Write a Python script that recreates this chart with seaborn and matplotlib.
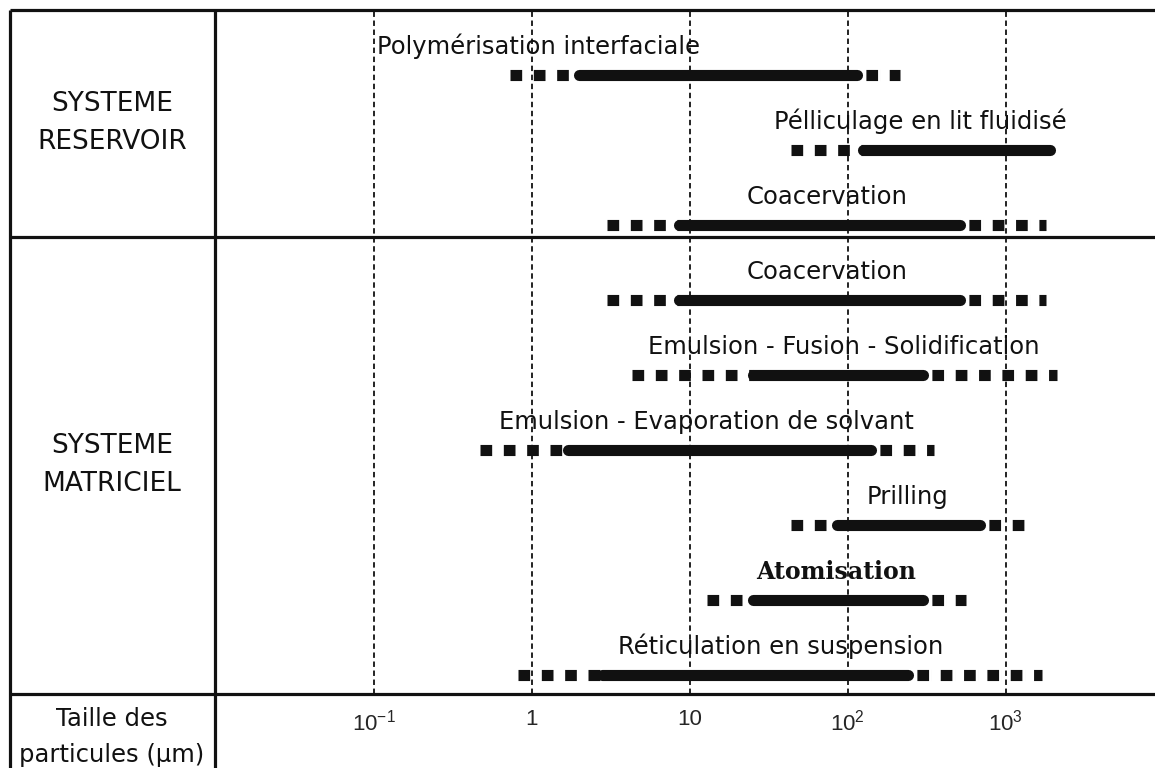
import pandas as pd
import matplotlib.pyplot as plt
import seaborn as sns
from matplotlib.ticker import NullLocator

# Encapsulation methods and particle size ranges (µm)
methods = [
    "Polymérisation interfaciale",
    "Pélliculage en lit fluidisé",
    "Coacervation",
    "Coacervation",
    "Emulsion - Fusion - Solidification",
    "Emulsion - Evaporation de solvant",
    "Prilling",
    "Atomisation",
    "Réticulation en suspension",
]
dot_min = [0.73, 44, 3.0, 3.0, 4.3, 0.47, 44, 12.8, 0.82]
solid_min = [2.0, 125, 8.6, 8.6, 25, 1.7, 86, 25, 2.8]
solid_max = [115, 1900, 510, 510, 300, 140, 690, 300, 240]
dot_max = [215, 1900, 1800, 1800, 2100, 350, 1300, 560, 1700]

tick_values = [0.1, 1, 10, 100, 1000]
tick_labels = [r"$\mathregular{10^{-1}}$", "1", "10",
               r"$\mathregular{10^{2}}$", r"$\mathregular{10^{3}}$"]

groups = ["SYSTEME\nRESERVOIR", "SYSTEME\nMATRICIEL"]
size_label = "Taille des\nparticules (µm)"

# Build segments: solid core range + dotted extensions
segs = []
for i in range(len(methods)):
    pieces = [("solid", solid_min[i], solid_max[i]),
              ("dot_left", dot_min[i], solid_min[i])]
    if dot_max[i] > solid_max[i]:
        pieces.append(("dot_right", solid_max[i], dot_max[i]))
    for k, (kind, a, b) in enumerate(pieces):
        for x in (a, b):
            segs.append({"seg": f"{i}-{k}", "kind": kind, "x": x, "row": i})
df = pd.DataFrame(segs)

sns.set_theme(style="white")
plt.rcParams["font.family"] = ["DejaVu Sans"]
plt.rcParams["lines.solid_capstyle"] = "round"
plt.rcParams["lines.dash_capstyle"] = "butt"

W, H = 1155, 768
fig = plt.figure(figsize=(W / 100, H / 100), dpi=100)

# Table frame drawn in pixel coordinates
frame = fig.add_axes([0, 0, 1, 1])
frame.set_xlim(0, W)
frame.set_ylim(H, 0)
frame.axis("off")
lw_frame = 2.3
for y in (10, 237, 694):
    frame.plot([10, W], [y, y], color="#111", lw=lw_frame, solid_capstyle="butt")
for x in (10, 215):
    frame.plot([x, x], [10, H], color="#111", lw=lw_frame, solid_capstyle="butt")
frame.text(112, 123, groups[0], ha="center", va="center", fontsize=19,
           linespacing=1.6, color="#111")
frame.text(112, 465, groups[1], ha="center", va="center", fontsize=19,
           linespacing=1.6, color="#111")
frame.text(112, 737, size_label, ha="center", va="center", fontsize=17.5,
           linespacing=1.6, color="#111")

# Main plotting area
ax = fig.add_axes([215 / W, (H - 694) / H, (W - 215) / W, (694 - 10) / H])
ax.patch.set_alpha(0)
ax.set_xscale("log")
ax.set_xlim(0.0099, 8800)
ax.set_ylim(8.25, -0.867)

for v in tick_values:
    ax.axvline(v, color="#111", lw=1.3, ls=(0, (3, 2)), zorder=1)

sns.lineplot(data=df, x="x", y="row", units="seg", estimator=None,
             style="kind",
             dashes={"solid": "", "dot_left": (1.05, 1.05),
                     "dot_right": (0.001, 0.8, 1.05, 0.249)},
             color="#111", linewidth=8, sort=False, legend=False, ax=ax,
             zorder=3)

for i, name in enumerate(methods):
    if i == 0:
        x, ha = 0.105, "left"
    else:
        x, ha = (dot_min[i] * dot_max[i]) ** 0.5, "center"
    kw = dict(fontsize=17.5, color="#111")
    if name == "Atomisation":
        kw = dict(fontsize=17, fontweight="bold", family="DejaVu Serif",
                  color="#111")
    ax.annotate(name, (x, i), xytext=(0, 15), textcoords="offset points",
                ha=ha, va="baseline", zorder=4, **kw)

ax.set_xticks(tick_values)
ax.set_xticklabels(tick_labels)
ax.xaxis.set_minor_locator(NullLocator())
ax.tick_params(axis="x", length=0, pad=11, labelsize=16)
for lbl in ax.get_xticklabels():
    lbl.set_fontfamily("Liberation Sans")
ax.set_yticks([])
ax.set_xlabel("")
ax.set_ylabel("")
for s in ax.spines.values():
    s.set_visible(False)

fig.savefig("out.png", dpi=100)
